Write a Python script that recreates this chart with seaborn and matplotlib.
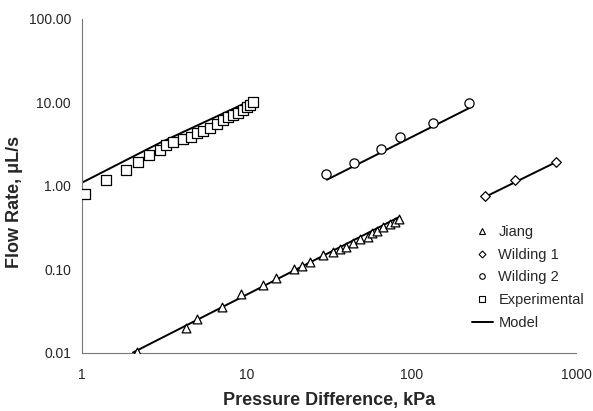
import numpy as np
import pandas as pd
import seaborn as sns
import matplotlib.pyplot as plt
from matplotlib.lines import Line2D
from matplotlib.ticker import FixedLocator, FixedFormatter, NullLocator

# values
exp_dp = [1.04, 1.40, 1.85, 2.19, 2.55, 2.98, 3.24, 3.57, 4.10, 4.59, 4.99,
          5.43, 5.99, 6.60, 7.18, 7.70, 8.26, 8.85, 9.50, 10.0, 10.5, 10.9]
exp_q = [0.80, 1.18, 1.56, 1.94, 2.35, 2.70, 3.10, 3.37, 3.66, 3.87, 4.32,
         4.56, 4.96, 5.54, 6.19, 6.72, 7.10, 7.50, 8.15, 8.85, 9.36, 10.2]

jiang_dp = [2.16, 4.28, 4.99, 7.08, 9.23, 12.6, 15.1, 19.4, 21.7, 24.2, 29.0,
            33.4, 36.8, 40.1, 44.2, 48.7, 54.5, 57.6, 61.8, 67.3, 74.1, 79.5, 84.1]
jiang_q = [0.0102, 0.0198, 0.0254, 0.0354, 0.0507, 0.065, 0.0789, 0.101, 0.110,
           0.123, 0.149, 0.162, 0.176, 0.186, 0.207, 0.231, 0.245, 0.273, 0.289,
           0.322, 0.350, 0.370, 0.402]

wild1_dp = [280, 425, 755]
wild1_q = [0.76, 1.18, 1.94]

wild2_dp = [30.3, 44.8, 65.4, 85.3, 135, 224]
wild2_q = [1.39, 1.89, 2.78, 3.87, 5.69, 9.89]

# model curves
model_exp_dp = [1.0, 2.98, 10.8]
model_exp_q = [1.09, 3.28, 10.7]
model_jiang_dp = [2.04, 85]
model_jiang_q = [0.0100, 0.425]
model_wild2_dp = [30.7, 233]
model_wild2_q = [1.18, 8.86]
model_wild1_dp = [275, 764]
model_wild1_q = [0.72, 1.94]

x_ticks = [1, 10, 100, 1000]
x_labels = ["1", "10", "100", "1000"]
y_ticks = [0.01, 0.1, 1, 10, 100]
y_labels = ["0.01", "0.10", "1.00", "10.00", "100.00"]

sns.set_style("white")
plt.rcParams['font.family'] = ['Liberation Sans', 'DejaVu Sans']

model = pd.concat([
    pd.DataFrame({'dp': model_exp_dp, 'q': model_exp_q, 'seg': 'exp'}),
    pd.DataFrame({'dp': model_jiang_dp, 'q': model_jiang_q, 'seg': 'jiang'}),
    pd.DataFrame({'dp': model_wild2_dp, 'q': model_wild2_q, 'seg': 'w2'}),
    pd.DataFrame({'dp': model_wild1_dp, 'q': model_wild1_q, 'seg': 'w1'}),
])

fig = plt.figure(figsize=(5.93, 4.11), dpi=100)
ax = fig.add_axes([0.1383, 0.1423, 0.8330, 0.8115])

sns.lineplot(data=model, x='dp', y='q', units='seg', estimator=None,
             color='black', lw=1.4, ax=ax, legend=False, sort=False)

pts = [(jiang_dp, jiang_q, '^'), (wild1_dp, wild1_q, 'D'),
       (wild2_dp, wild2_q, 'o'), (exp_dp, exp_q, 's')]
sizes = {'^': 40, 'D': 24, 'o': 44, 's': 46}
for xs, ys, m in pts:
    sns.scatterplot(x=xs, y=ys, marker=m, s=sizes[m], facecolor='white',
                    edgecolor='black', linewidth=0.9, ax=ax, zorder=3)

ax.set_xscale('log')
ax.set_yscale('log')
ax.set_xlim(1, 1000)
ax.set_ylim(0.01, 100)
ax.xaxis.set_major_locator(FixedLocator(x_ticks))
ax.xaxis.set_major_formatter(FixedFormatter(x_labels))
ax.yaxis.set_major_locator(FixedLocator(y_ticks))
ax.yaxis.set_major_formatter(FixedFormatter(y_labels))
ax.xaxis.set_minor_locator(NullLocator())
ax.yaxis.set_minor_locator(NullLocator())
ax.tick_params(axis='both', which='major', direction='out', length=3,
               width=0.8, color='#777777', labelsize=10)
ax.tick_params(axis='x', pad=8)
ax.tick_params(axis='y', pad=5)

sns.despine(ax=ax)
for side in ['left', 'bottom']:
    ax.spines[side].set_color('#777777')
    ax.spines[side].set_linewidth(0.8)

ax.set_xlabel('Pressure Difference, kPa', fontsize=13, fontweight='bold', labelpad=7)
ax.set_ylabel('Flow Rate, \u03bcL/s', fontsize=13, fontweight='bold')
ax.yaxis.set_label_coords(-0.12, 0.45)

handles = [
    Line2D([], [], ls='none', marker='^', ms=4, mfc='white', mec='black', mew=0.8),
    Line2D([], [], ls='none', marker='D', ms=3.5, mfc='white', mec='black', mew=0.8),
    Line2D([], [], ls='none', marker='o', ms=4, mfc='white', mec='black', mew=0.8),
    Line2D([], [], ls='none', marker='s', ms=4, mfc='white', mec='black', mew=0.8),
    Line2D([], [], color='black', lw=1.4),
]
labels = ['Jiang', 'Wilding 1', 'Wilding 2', 'Experimental', 'Model']
ax.legend(handles, labels, frameon=False, fontsize=10.5, loc='upper left',
          bbox_to_anchor=(0.778, 0.40), handlelength=1.4, handletextpad=0.4,
          labelspacing=0.6, borderaxespad=0)

fig.savefig('out.png', dpi=100)
